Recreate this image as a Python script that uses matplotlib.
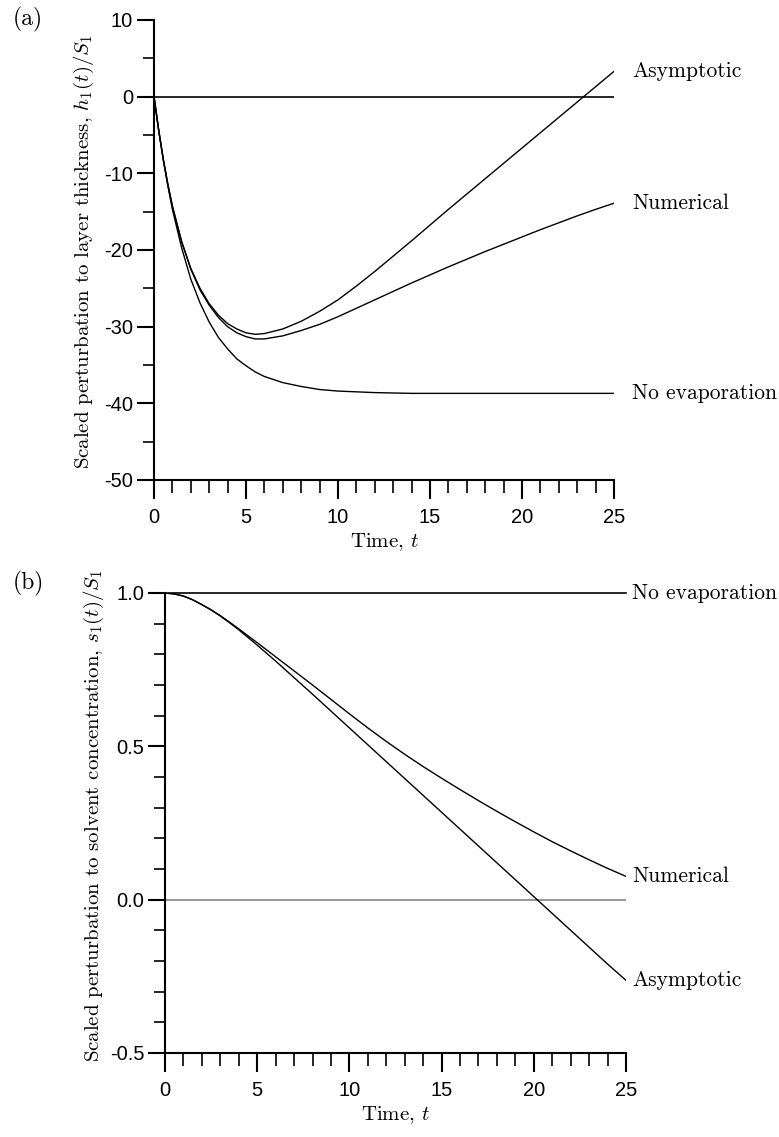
import matplotlib
matplotlib.use("Agg")
import matplotlib.pyplot as plt
from matplotlib.ticker import MultipleLocator, FormatStrFormatter

plt.rcParams['axes.unicode_minus'] = False
plt.rcParams['mathtext.fontset'] = 'cm'

# ---- panel (a): h1(t)/S1 ----
t_a = [0, 0.25, 0.5, 0.75, 1, 1.5, 2, 2.5, 3, 3.5, 4, 4.5, 5, 5.5, 6, 7, 8, 9,
       10, 11, 12, 13, 14, 15, 16, 17, 18, 19, 20, 21, 22, 23, 24, 25]
h_noevap = [0, -4.3, -8.2, -11.6, -14.7, -19.7, -23.8, -26.9, -29.4, -31.4, -32.9,
            -34.2, -35.1, -35.9, -36.5, -37.3, -37.8, -38.2, -38.4, -38.5, -38.6,
            -38.65, -38.7, -38.7, -38.7, -38.7, -38.7, -38.7, -38.7, -38.7, -38.7,
            -38.7, -38.7, -38.7]
h_asym = [0, -4.3, -8.1, -11.4, -14.3, -18.9, -22.4, -25.0, -27.0, -28.5, -29.6,
          -30.3, -30.8, -31.0, -30.9, -30.3, -29.3, -28.0, -26.5, -24.7, -22.8,
          -20.8, -18.8, -16.75, -14.7, -12.7, -10.7, -8.7, -6.7, -4.7, -2.7, -0.7,
          1.3, 3.3]
h_num = [0, -4.3, -8.1, -11.4, -14.3, -18.9, -22.5, -25.2, -27.2, -28.8, -30.0,
         -30.8, -31.3, -31.6, -31.6, -31.2, -30.5, -29.7, -28.7, -27.6, -26.5,
         -25.4, -24.3, -23.25, -22.2, -21.2, -20.2, -19.25, -18.3, -17.35, -16.45,
         -15.55, -14.7, -13.9]

# ---- panel (b): s1(t)/S1 ----
t_b = [0, 0.5, 1, 1.5, 2, 2.5, 3, 3.5, 4, 5, 6, 7, 8, 9, 10, 11, 12, 13, 14, 15,
       16, 17, 18, 19, 20, 21, 22, 23, 24, 25]
s_noevap = [1.0] * len(t_b)
s_asym = [1.0, 0.997, 0.99, 0.978, 0.962, 0.945, 0.925, 0.903, 0.88, 0.83, 0.778,
          0.724, 0.67, 0.615, 0.56, 0.505, 0.45, 0.395, 0.34, 0.285, 0.23, 0.175,
          0.12, 0.065, 0.01, -0.045, -0.10, -0.155, -0.21, -0.263]
s_num = [1.0, 0.997, 0.99, 0.978, 0.962, 0.945, 0.926, 0.905, 0.883, 0.838, 0.792,
         0.746, 0.7, 0.653, 0.606, 0.56, 0.516, 0.474, 0.434, 0.396, 0.359, 0.323,
         0.288, 0.254, 0.221, 0.189, 0.159, 0.13, 0.102, 0.076]

serif = 'cmr10'
tick_font = 'Liberation Sans'

fig = plt.figure(figsize=(7.79, 11.37), dpi=100)
ax1 = fig.add_axes([154 / 779, 1 - 480 / 1137, 460 / 779, 460 / 1137])
ax2 = fig.add_axes([165 / 779, 1 - 1053 / 1137, 461 / 779, 460 / 1137])


def style_axes(ax):
    for side in ['top', 'right']:
        ax.spines[side].set_visible(False)
    for side in ['left', 'bottom']:
        ax.spines[side].set_linewidth(1.5)
    ax.xaxis.set_major_locator(MultipleLocator(5))
    ax.xaxis.set_minor_locator(MultipleLocator(1))
    ax.tick_params(axis='x', which='major', direction='out', length=14, width=1.5, pad=6)
    ax.tick_params(axis='x', which='minor', direction='out', length=9, width=1.2)
    ax.tick_params(axis='y', which='major', direction='out', length=12, width=1.5, pad=3)
    ax.tick_params(axis='y', which='minor', direction='out', length=8, width=1.2)
    for lab in ax.get_xticklabels() + ax.get_yticklabels():
        lab.set_fontfamily(tick_font)
        lab.set_fontsize(14.5)
    ax.set_xlim(0, 25)


# panel (a)
ax1.plot([0, 25], [0, 0], color='black', lw=1.2)
ax1.plot(t_a, h_noevap, color='black', lw=1.0)
ax1.plot(t_a, h_asym, color='black', lw=1.0)
ax1.plot(t_a, h_num, color='black', lw=1.0)
ax1.set_ylim(-50, 10)
ax1.yaxis.set_major_locator(MultipleLocator(10))
ax1.yaxis.set_minor_locator(MultipleLocator(5))
style_axes(ax1)
ax1.set_xlabel('Time, $t$', fontfamily=serif, fontsize=15)
ax1.xaxis.set_label_coords(0.5, -0.112)
ax1.set_ylabel('Scaled perturbation to layer thickness, $h_1(t)/S_1$',
               fontfamily=serif, fontsize=15)
ax1.yaxis.label.set_verticalalignment('center')
ax1.yaxis.set_label_coords(-0.152, 0.495)
for txt, yv in [('Asymptotic', h_asym[-1]), ('Numerical', h_num[-1]),
                ('No evaporation', h_noevap[-1])]:
    ax1.text(26.0, yv, txt, fontfamily=serif, fontsize=15.5, va='center', ha='left',
             clip_on=False)
fig.text(28 / 779, 1 - 19 / 1137, '(a)', fontfamily=serif, fontsize=17,
         ha='center', va='center')

# panel (b)
ax2.plot([0, 25], [0, 0], color='#9a9a9a', lw=1.5)
ax2.plot(t_b, s_noevap, color='black', lw=1.2, clip_on=False)
ax2.plot(t_b, s_asym, color='black', lw=1.0)
ax2.plot(t_b, s_num, color='black', lw=1.0)
ax2.set_ylim(-0.5, 1.0)
ax2.yaxis.set_major_locator(MultipleLocator(0.5))
ax2.yaxis.set_minor_locator(MultipleLocator(0.1))
ax2.yaxis.set_major_formatter(FormatStrFormatter('%.1f'))
style_axes(ax2)
ax2.set_xlabel('Time, $t$', fontfamily=serif, fontsize=15)
ax2.xaxis.set_label_coords(0.5, -0.112)
ax2.set_ylabel('Scaled perturbation to solvent concentration, $s_1(t)/S_1$',
               fontfamily=serif, fontsize=15)
ax2.yaxis.label.set_verticalalignment('center')
ax2.yaxis.set_label_coords(-0.155, 0.517)
for txt, yv in [('No evaporation', s_noevap[-1]), ('Numerical', s_num[-1]),
                ('Asymptotic', s_asym[-1])]:
    ax2.text(25.35, yv, txt, fontfamily=serif, fontsize=15.5, va='center', ha='left',
             clip_on=False)
fig.text(28 / 779, 1 - 583 / 1137, '(b)', fontfamily=serif, fontsize=17,
         ha='center', va='center')

fig.savefig('out.png', dpi=100)
